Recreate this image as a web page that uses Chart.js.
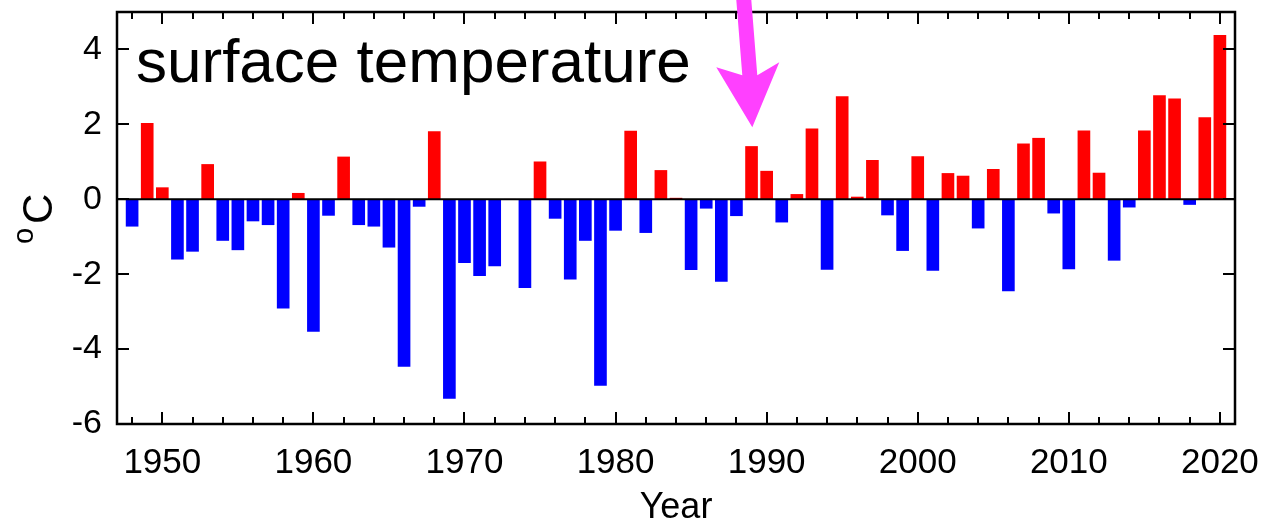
<!DOCTYPE html>
<html><head><meta charset="utf-8">
<script src="https://cdn.jsdelivr.net/npm/chart.js@4/dist/chart.umd.min.js"></script>
<style>html,body{margin:0;padding:0;background:#fff;overflow:hidden}canvas{display:block}</style>
</head><body>
<canvas id="c" width="1264" height="528"></canvas>
<script>
const years = [1948,1949,1950,1951,1952,1953,1954,1955,1956,1957,1958,1959,
  1960,1961,1962,1963,1964,1965,1966,1967,1968,1969,
  1970,1971,1972,1973,1974,1975,1976,1977,1978,1979,
  1980,1981,1982,1983,1984,1985,1986,1987,1988,1989,
  1990,1991,1992,1993,1994,1995,1996,1997,1998,1999,
  2000,2001,2002,2003,2004,2005,2006,2007,2008,2009,
  2010,2011,2012,2013,2014,2015,2016,2017,2018,2019,2020];
const anomalies = [-0.72,2.03,0.31,-1.60,-1.39,0.93,-1.10,-1.35,-0.58,-0.68,-2.91,0.16,
  -3.53,-0.43,1.13,-0.68,-0.72,-1.28,-4.46,-0.19,1.81,-5.32,
  -1.69,-2.04,-1.78,0.00,-2.36,1.00,-0.51,-2.13,-1.10,-4.97,
  -0.83,1.82,-0.89,0.77,0.03,-1.88,-0.24,-2.19,-0.44,1.41,
  0.75,-0.61,0.13,1.88,-1.87,2.74,0.06,1.04,-0.42,-1.37,
  1.14,-1.90,0.69,0.62,-0.77,0.80,-2.45,1.48,1.63,-0.37,
  -1.86,1.83,0.70,-1.63,-0.21,1.83,2.77,2.68,-0.14,2.18,4.38];
const xTickLabels = [1950,1960,1970,1980,1990,2000,2010,2020];
const yTickLabels = [-6,-4,-2,0,2,4];
const xRange = [1947, 2021];
const yRange = [-6, 5];
const panelLabel = 'surface temperature';
const xTitle = 'Year';

const FONT = '"Liberation Sans", Arial, Helvetica, sans-serif';

const deco = {
  id: 'deco',
  afterDraw(chart) {
    const {ctx, chartArea: a, scales: {x, y}} = chart;
    ctx.save();
    ctx.strokeStyle = '#000';
    // zero line
    ctx.lineWidth = 2;
    const y0 = y.getPixelForValue(0);
    ctx.beginPath(); ctx.moveTo(a.left, y0); ctx.lineTo(a.right, y0); ctx.stroke();
    // x ticks inward (top and bottom)
    for (let t = 1948; t <= 2020; t += 2) {
      const px = Math.round(x.getPixelForValue(t));
      const len = (t % 10 === 0) ? 12 : 7;
      ctx.beginPath();
      ctx.moveTo(px, a.bottom); ctx.lineTo(px, a.bottom - len);
      ctx.moveTo(px, a.top); ctx.lineTo(px, a.top + len);
      ctx.stroke();
    }
    // y ticks inward (left and right)
    for (const v of yTickLabels) {
      const py = Math.round(y.getPixelForValue(v));
      ctx.beginPath();
      ctx.moveTo(a.left, py); ctx.lineTo(a.left + 12, py);
      ctx.moveTo(a.right, py); ctx.lineTo(a.right - 12, py);
      ctx.stroke();
    }
    // frame
    ctx.lineWidth = 2.5;
    ctx.strokeRect(a.left, a.top, a.right - a.left, a.bottom - a.top);

    // panel label
    ctx.fillStyle = '#000';
    ctx.font = '62px ' + FONT;
    ctx.textAlign = 'left'; ctx.textBaseline = 'alphabetic';
    ctx.fillText(panelLabel, 136, 82);

    // x title
    ctx.font = '36px ' + FONT;
    ctx.textAlign = 'center';
    ctx.fillText(xTitle, (a.left + a.right) / 2, 518);

    // y title: superscript o + C, rotated
    ctx.save();
    ctx.translate(52, 220);
    ctx.rotate(-Math.PI / 2);
    ctx.textAlign = 'left';
    ctx.font = '29px ' + FONT;
    ctx.fillText('o', -24, -19);
    ctx.font = '42px ' + FONT;
    ctx.fillText('C', -4, 0);
    ctx.restore();

    // magenta arrow
    const tx = x.getPixelForValue(1989.05), ty = y.getPixelForValue(1.92);
    ctx.fillStyle = '#ff40ff';
    ctx.beginPath();
    ctx.moveTo(tx, ty);
    ctx.lineTo(tx - 36, ty - 60);
    ctx.lineTo(tx - 10, ty - 52);
    ctx.lineTo(tx - 17, ty - 140);
    ctx.lineTo(tx - 2, ty - 140);
    ctx.lineTo(tx + 5, ty - 52);
    ctx.lineTo(tx + 27, ty - 65);
    ctx.closePath();
    ctx.fill();
    ctx.restore();
  }
};

new Chart(document.getElementById('c'), {
  type: 'bar',
  data: {
    datasets: [{
      data: years.map((yr, i) => ({x: yr, y: anomalies[i]})),
      backgroundColor: anomalies.map(v => v >= 0 ? '#ff0000' : '#0000ff'),
      borderWidth: 0,
      barThickness: 12
    }]
  },
  options: {
    responsive: false,
    devicePixelRatio: 1,
    animation: false,
    events: [],
    layout: {padding: {top: 12, right: 29, left: 0, bottom: 0}},
    plugins: {legend: {display: false}, tooltip: {enabled: false}},
    scales: {
      x: {
        type: 'linear',
        min: xRange[0], max: xRange[1],
        offset: false,
        grid: {display: false, drawTicks: false, offset: false},
        border: {display: false},
        ticks: {
          includeBounds: false, stepSize: 10, autoSkip: false, maxRotation: 0,
          padding: 18, color: '#000', font: {family: FONT, size: 35},
          callback: v => xTickLabels.includes(v) ? String(v) : ''
        },
        afterFit: s => { s.height = 104; s.paddingLeft = 0; s.paddingRight = 0; }
      },
      y: {
        min: yRange[0], max: yRange[1],
        grid: {display: false, drawTicks: false},
        border: {display: false},
        ticks: {
          includeBounds: false, stepSize: 2,
          padding: 15, color: '#000', font: {family: FONT, size: 34},
          callback: v => yTickLabels.includes(v) ? String(v) : ''
        },
        afterFit: s => { s.width = 117; s.paddingTop = 0; s.paddingBottom = 0; }
      }
    }
  },
  plugins: [deco]
});
</script>
</body></html>
